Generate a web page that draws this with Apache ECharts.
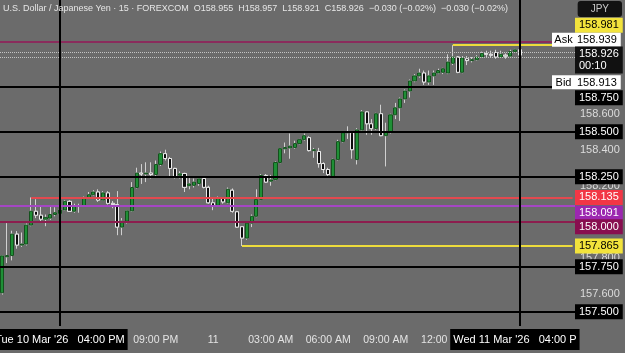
<!DOCTYPE html>
<html><head><meta charset="utf-8">
<script src="https://cdn.jsdelivr.net/npm/echarts@6/dist/echarts.min.js"></script>
<style>html,body{margin:0;padding:0;background:#6b6b6b}#c{width:625px;height:353px}</style>
</head><body><div id="c"></div>
<script>
// ---- data (15-min USD/JPY candles, Tue 10 Mar 2026 13:00 -> Wed 11 Mar 2026 16:00) ----
const openVals=[157.605,157.805,157.812,157.931,157.870,157.876,157.981,158.058,158.036,158.014,
158.020,158.040,158.045,158.065,158.113,158.058,158.090,158.090,158.135,158.150,
158.165,158.120,158.160,158.102,158.095,157.970,158.003,158.060,158.190,158.270,
158.265,158.270,158.262,158.318,158.378,158.351,158.296,158.258,158.268,158.200,
158.202,158.212,158.240,158.191,158.105,158.091,158.130,158.105,158.175,158.055,
157.972,157.909,157.992,158.030,158.124,158.257,158.225,158.235,158.329,158.405,
158.410,158.412,158.434,158.456,158.467,158.395,158.390,158.323,158.290,158.251,
158.345,158.445,158.494,158.495,158.345,158.510,158.610,158.544,158.517,158.600,
158.478,158.500,158.594,158.633,158.682,158.726,158.782,158.810,158.826,158.776,
158.810,158.826,158.830,158.826,158.880,158.915,158.830,158.905,158.895,158.900,
158.915,158.935,158.930,158.940,158.915,158.925,158.920,158.945,158.955];
const closeVals=[157.810,157.812,157.931,157.870,157.876,157.981,158.058,158.036,158.014,158.024,
158.040,158.050,158.065,158.113,158.058,158.090,158.085,158.135,158.150,158.165,
158.120,158.160,158.102,158.095,157.970,158.003,158.060,158.190,158.270,158.265,
158.270,158.262,158.318,158.378,158.351,158.296,158.251,158.266,158.191,158.210,
158.220,158.238,158.191,158.105,158.085,158.130,158.110,158.180,158.058,157.970,
157.909,157.992,158.030,158.124,158.257,158.220,158.232,158.329,158.406,158.412,
158.420,158.434,158.456,158.478,158.395,158.400,158.323,158.290,158.262,158.345,
158.445,158.494,158.500,158.400,158.510,158.610,158.544,158.517,158.600,158.478,
158.500,158.594,158.633,158.682,158.726,158.782,158.810,158.826,158.776,158.810,
158.826,158.840,158.850,158.887,158.915,158.830,158.910,158.895,158.900,158.915,
158.935,158.930,158.925,158.915,158.930,158.920,158.945,158.955,158.926];
const lowVals=[157.595,157.770,157.785,157.850,157.860,157.868,157.975,158.020,157.998,157.975,
158.010,158.030,158.035,158.060,158.055,158.050,158.050,158.085,158.130,158.145,
158.110,158.115,158.095,158.075,157.925,157.925,157.990,158.055,158.185,158.210,
158.220,158.240,158.250,158.310,158.340,158.245,158.240,158.240,158.165,158.180,
158.190,158.200,158.185,158.100,158.064,158.085,158.100,158.100,158.050,157.965,
157.865,157.900,157.970,158.025,158.120,158.215,158.200,158.230,158.325,158.380,
158.350,158.405,158.430,158.450,158.390,158.355,158.300,158.270,158.245,158.246,
158.340,158.440,158.460,158.350,158.318,158.505,158.483,158.483,158.510,158.475,
158.307,158.490,158.570,158.560,158.660,158.690,158.775,158.800,158.760,158.760,
158.760,158.820,158.820,158.820,158.870,158.825,158.825,158.870,158.885,158.895,
158.910,158.915,158.915,158.905,158.910,158.905,158.915,158.940,158.921];
const highVals=[157.815,157.992,157.950,157.948,157.940,157.990,158.135,158.125,158.090,158.040,
158.085,158.080,158.105,158.120,158.120,158.100,158.100,158.140,158.165,158.175,
158.180,158.170,158.170,158.115,158.170,158.020,158.065,158.220,158.300,158.320,
158.330,158.330,158.340,158.390,158.400,158.360,158.300,158.280,158.272,158.250,
158.240,158.245,158.245,158.200,158.130,158.140,158.135,158.190,158.185,158.060,
157.975,157.998,158.040,158.180,158.265,158.265,158.260,158.335,158.410,158.440,
158.490,158.450,158.460,158.490,158.475,158.410,158.410,158.330,158.300,158.350,
158.455,158.500,158.530,158.500,158.520,158.620,158.615,158.570,158.605,158.650,
158.550,158.600,158.660,158.690,158.735,158.790,158.820,158.850,158.840,158.840,
158.840,158.850,158.855,158.930,158.981,158.920,158.920,158.920,158.915,158.925,
158.945,158.950,158.950,158.955,158.950,158.935,158.955,158.960,158.957];

const tickTimes=['2026-03-10 21:00','2026-03-11 00:00','2026-03-11 03:00','2026-03-11 06:00','2026-03-11 09:00','2026-03-11 12:00'];
const tickLabels=['09:00 PM','11','03:00 AM','06:00 AM','09:00 AM','12:00'];
const plainPriceTicks=[158.6,158.4,158.2,157.8,157.6];
const blackLevels=[158.75,158.5,158.25,157.75,157.5];
const redLevel=158.135, purpleLevel=158.091, maroonLevel=158.000, yellowLowLevel=157.865, yellowHighLevel=158.981, magentaLevel=159.000;
const askPrice=158.939, bidPrice=158.913, lastPrice=158.926, countdown='00:10';
const sessionTime='2026-03-10 16:00', crossTime='2026-03-11 16:00';
const redStart='2026-03-10 14:30', yellowLowStart='2026-03-11 01:30', yellowHighStart='2026-03-11 12:30';
const sessionLabel="Tue 10 Mar '26   04:00 PM", crossLabel="Wed 11 Mar '26   04:00 P";
const headerText="U.S. Dollar / Japanese Yen · 15 · FOREXCOM  O158.955  H158.957  L158.921  C158.926  −0.030 (−0.02%)  −0.030 (−0.02%)";

// ---- categories: 15-minute slots (109 candles + empty right margin) ----
const SLOTS=120;
const pad=n=>String(n).padStart(2,'0');
const categories=[];
const t0=Date.UTC(2026,2,10,13,0);
for(let i=0;i<SLOTS;i++){const d=new Date(t0+i*900000);
 categories.push(d.getUTCFullYear()+'-'+pad(d.getUTCMonth()+1)+'-'+pad(d.getUTCDate())+' '+pad(d.getUTCHours())+':'+pad(d.getUTCMinutes()));}
const lastCat=categories[SLOTS-1];

const wickData=openVals.map((o,i)=>[o,closeVals[i],lowVals[i],highVals[i]]);
const bodyData=openVals.map((o,i)=>[o,closeVals[i],Math.min(o,closeVals[i]),Math.max(o,closeVals[i])]);

const FONT='Liberation Sans';
const CLEAR='rgba(0,0,0,0)';
function boxLabel(text,bg,fg,dy){return {show:true,position:'end',distance:0,offset:[0,dy||0],formatter:text,
 backgroundColor:bg,color:fg,fontFamily:FONT,fontSize:11,padding:[2,4,1,4],lineHeight:12};}
const f3=v=>v.toFixed(3);

const lineData=[];
blackLevels.forEach(v=>lineData.push({yAxis:v,lineStyle:{color:'#000',width:2,type:'solid'},label:boxLabel(f3(v),'#000','#fff',v===158.75?11:0)}));
lineData.push({yAxis:magentaLevel,lineStyle:{color:'#8a2c5c',width:2,type:'solid'},label:{show:false}});
lineData.push({yAxis:purpleLevel,lineStyle:{color:'#a546c4',width:2,type:'solid'},label:boxLabel(f3(purpleLevel),'#9c27b0','#fff',8)});
lineData.push({yAxis:maroonLevel,lineStyle:{color:'#8c1d4e',width:2,type:'solid'},label:boxLabel(f3(maroonLevel),'#880e4f','#fff',5)});
lineData.push([{coord:[redStart,redLevel],lineStyle:{color:'#e2494f',width:2,type:'solid'}},{coord:[lastCat,redLevel]}]);
lineData.push([{coord:[yellowLowStart,yellowLowLevel],lineStyle:{color:'#eddc3c',width:2,type:'solid'}},{coord:[lastCat,yellowLowLevel]}]);
lineData.push([{coord:[yellowHighStart,yellowHighLevel],lineStyle:{color:'#eddc3c',width:2,type:'solid'}},{coord:[lastCat,yellowHighLevel]}]);
// labels for partial lines
lineData.push({yAxis:redLevel,lineStyle:{color:CLEAR,width:0},label:boxLabel(f3(redLevel),'#f23645','#fff',0)});
lineData.push({yAxis:yellowLowLevel,lineStyle:{color:CLEAR,width:0},label:boxLabel(f3(yellowLowLevel),'#f2e33c','#000',0)});
lineData.push({yAxis:yellowHighLevel,lineStyle:{color:CLEAR,width:0},label:boxLabel(f3(yellowHighLevel),'#f2e33c','#000',-20)});
// ask / bid / last
const richAB={a:{color:'#000',fontFamily:FONT,fontSize:11,width:19,align:'center'},b:{color:'#000',fontFamily:FONT,fontSize:11,padding:[0,0,0,4]}};
lineData.push({yAxis:askPrice,lineStyle:{color:'#c4c4c4',width:1,type:'dotted'},label:{show:true,position:'end',distance:0,offset:[-23,-13],formatter:'{a|Ask}{b|'+f3(askPrice)+'}',rich:richAB,backgroundColor:'#fff',padding:[2,4,1,2]}});
lineData.push({yAxis:bidPrice,lineStyle:{color:'#c4c4c4',width:1,type:'dotted'},label:{show:true,position:'end',distance:0,offset:[-23,25],formatter:'{a|Bid}{b|'+f3(bidPrice)+'}',rich:richAB,backgroundColor:'#fff',padding:[2,4,1,2]}});
lineData.push({yAxis:lastPrice,lineStyle:{color:CLEAR,width:0},label:boxLabel(f3(lastPrice)+'\n'+countdown,'#111','#fff',5)});
// vertical lines
lineData.push({xAxis:sessionTime,lineStyle:{color:'#000',width:2,type:'solid'},label:{show:true,position:'start',distance:3,formatter:sessionLabel,backgroundColor:'#000',color:'#fff',fontFamily:FONT,fontSize:11,padding:[5,3,5,3]}});
lineData.push({xAxis:crossTime,lineStyle:{color:'#000',width:2,type:'solid'},label:{show:true,position:'start',distance:3,offset:[-5,0],formatter:crossLabel,backgroundColor:'#000',color:'#fff',fontFamily:FONT,fontSize:11,padding:[5,3,5,3]}});

const chart=echarts.init(document.getElementById('c'),null,{renderer:'canvas'});
chart.setOption({
 animation:false,
 backgroundColor:'#6b6b6b',
 title:[{text:headerText,left:3,top:4,padding:0,textStyle:{color:'#e6e6e6',fontSize:9,fontWeight:'normal',fontFamily:FONT}},
        {text:'JPY',right:3,top:1,padding:[3,13,3,13],backgroundColor:'#121212',borderRadius:3,textStyle:{color:'#c8c8c8',fontSize:10,fontWeight:'normal',fontFamily:FONT}}],
 grid:{left:0,right:50,top:0,bottom:27},
 xAxis:{type:'category',data:categories,boundaryGap:true,axisLine:{show:false},axisTick:{show:false},splitLine:{show:false},
  axisLabel:{interval:(i,v)=>tickTimes.indexOf(v)>=0,
   formatter:(v)=>{const k=tickTimes.indexOf(v);const s=tickLabels[k];return k===tickTimes.length-1?'{s|'+s+'}':s;},
   rich:{s:{padding:[0,18,0,0],color:'#e4e4e4',fontSize:10.5,fontFamily:FONT}},
   color:'#e4e4e4',fontSize:10.5,fontFamily:FONT,margin:9}},
 yAxis:{type:'value',position:'right',min:157.4206,max:159.2317,scale:true,splitLine:{show:false},axisLine:{show:false},axisTick:{show:false},
  axisLabel:{customValues:plainPriceTicks,formatter:v=>v.toFixed(3),color:'#dcdcdc',fontSize:11,fontFamily:FONT,margin:5}},
 series:[
  {type:'candlestick',data:wickData,barWidth:3.6,z:2,
   itemStyle:{color:'#d0d0d0',color0:'#d0d0d0',borderColor:'#d0d0d0',borderColor0:'#d0d0d0',borderWidth:1}},
  {type:'candlestick',data:bodyData,barWidth:3.6,z:3,
   itemStyle:{color:'#1f8f36',color0:'#0b0b0b',borderColor:'#14501d',borderColor0:'#ececec',borderWidth:1},
   markLine:{silent:true,symbol:'none',animation:false,precision:3,data:lineData}}
 ]
});
</script></body></html>
